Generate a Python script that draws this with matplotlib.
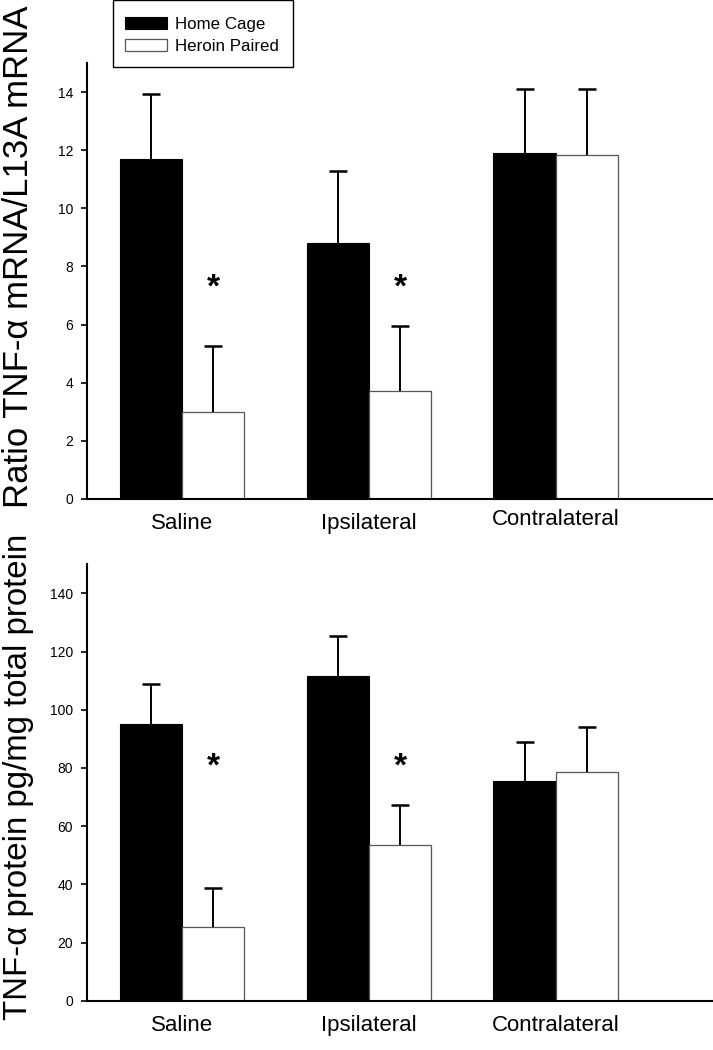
import numpy as np
import matplotlib
matplotlib.use("Agg")
import matplotlib.pyplot as plt
from matplotlib.patches import Rectangle

plt.rcParams['font.family'] = ['Liberation Sans', 'DejaVu Sans']

# data
groups = ["Saline", "Ipsilateral", "Contralateral"]
series = ["Home Cage", "Heroin Paired"]

mrna_home = [11.7, 8.8, 11.9]
mrna_home_err = [2.25, 2.5, 2.22]
mrna_heroin = [3.0, 3.7, 11.85]
mrna_heroin_err = [2.25, 2.25, 2.27]

prot_home = [95.2, 111.5, 75.4]
prot_home_err = [13.5, 13.7, 13.6]
prot_heroin = [25.2, 53.5, 78.5]
prot_heroin_err = [13.7, 13.7, 15.4]

sig_mrna = [True, True, False]
sig_prot = [True, True, False]

W, H = 713, 1050
fig = plt.figure(figsize=(W / 100, H / 100), dpi=100)

x = np.arange(len(groups))
bw = 0.334


def up_err(ax, xs, vals, errs):
    # only the upper half of the error bar, with a cap on top
    tops = np.array(vals) + np.array(errs)
    ax.vlines(xs, vals, tops, color="black", linewidth=1.4, zorder=3)
    ax.plot(xs, tops, ls="none", marker="_", markersize=13, mew=1.8,
            color="black", zorder=3)


def panel(ax, home, home_err, heroin, heroin_err, sig, ymax, step, star_y):
    ax.bar(x - bw / 2, home, bw, color="black", edgecolor="black", linewidth=0.8,
           label=series[0])
    ax.bar(x + bw / 2, heroin, bw, color="white", edgecolor="#555555", linewidth=0.9,
           label=series[1])
    up_err(ax, x - bw / 2, home, home_err)
    up_err(ax, x + bw / 2, heroin, heroin_err)
    for xi, s in zip(x, sig):
        if s:
            ax.text(xi + bw / 2, star_y, "*", ha="center", va="center",
                    fontsize=24, fontweight="bold")
    ax.set_xlim(-0.508, 2.84)
    ax.set_ylim(0, ymax)
    ax.set_yticks(np.arange(0, ymax, step))
    ax.set_xticks(x)
    ax.set_xticklabels(groups, fontsize=16)
    ax.tick_params(axis="x", length=0, pad=10)
    ax.tick_params(axis="y", length=4, width=1.2, labelsize=10, pad=6, direction="out")
    for s in ["top", "right"]:
        ax.spines[s].set_visible(False)
    for s in ["left", "bottom"]:
        ax.spines[s].set_linewidth(1.5)


ax1 = fig.add_axes([87 / W, 1 - 499 / H, 1 - 87 / W, 436 / H])
panel(ax1, mrna_home, mrna_home_err, mrna_heroin, mrna_heroin_err, sig_mrna,
      15, 2, 7.25)
ax1.get_xticklabels()[2].set_y(0.01)

ax2 = fig.add_axes([87 / W, 1 - 1000.7 / H, 1 - 87 / W, 436.5 / H])
panel(ax2, prot_home, prot_home_err, prot_heroin, prot_heroin_err, sig_prot,
      150, 20, 80.3)

fig.text(19 / W, 1 - 257 / H, "Ratio TNF-α mRNA/L13A mRNA", rotation=90,
         ha="center", va="center", fontsize=25)
fig.text(19 / W, 1 - 777 / H, "TNF-α protein pg/mg total protein", rotation=90,
         ha="center", va="center", fontsize=23.8)

# legend box drawn separately so its padding can match the reference
fig.patches.append(Rectangle((113 / W, 1 - 67 / H), 180 / W, 67 / H,
                             transform=fig.transFigure, facecolor="white",
                             edgecolor="black", linewidth=1.0))
h, l = ax1.get_legend_handles_labels()
leg = fig.legend(h, l, loc="upper left", bbox_to_anchor=(125 / W, 1 - 17 / H),
                 borderaxespad=0, fontsize=12.2, frameon=False,
                 handlelength=2.45, handleheight=0.72, handletextpad=0.5,
                 labelspacing=0.42, borderpad=0)

fig.savefig("out.png", dpi=100, facecolor="white")
